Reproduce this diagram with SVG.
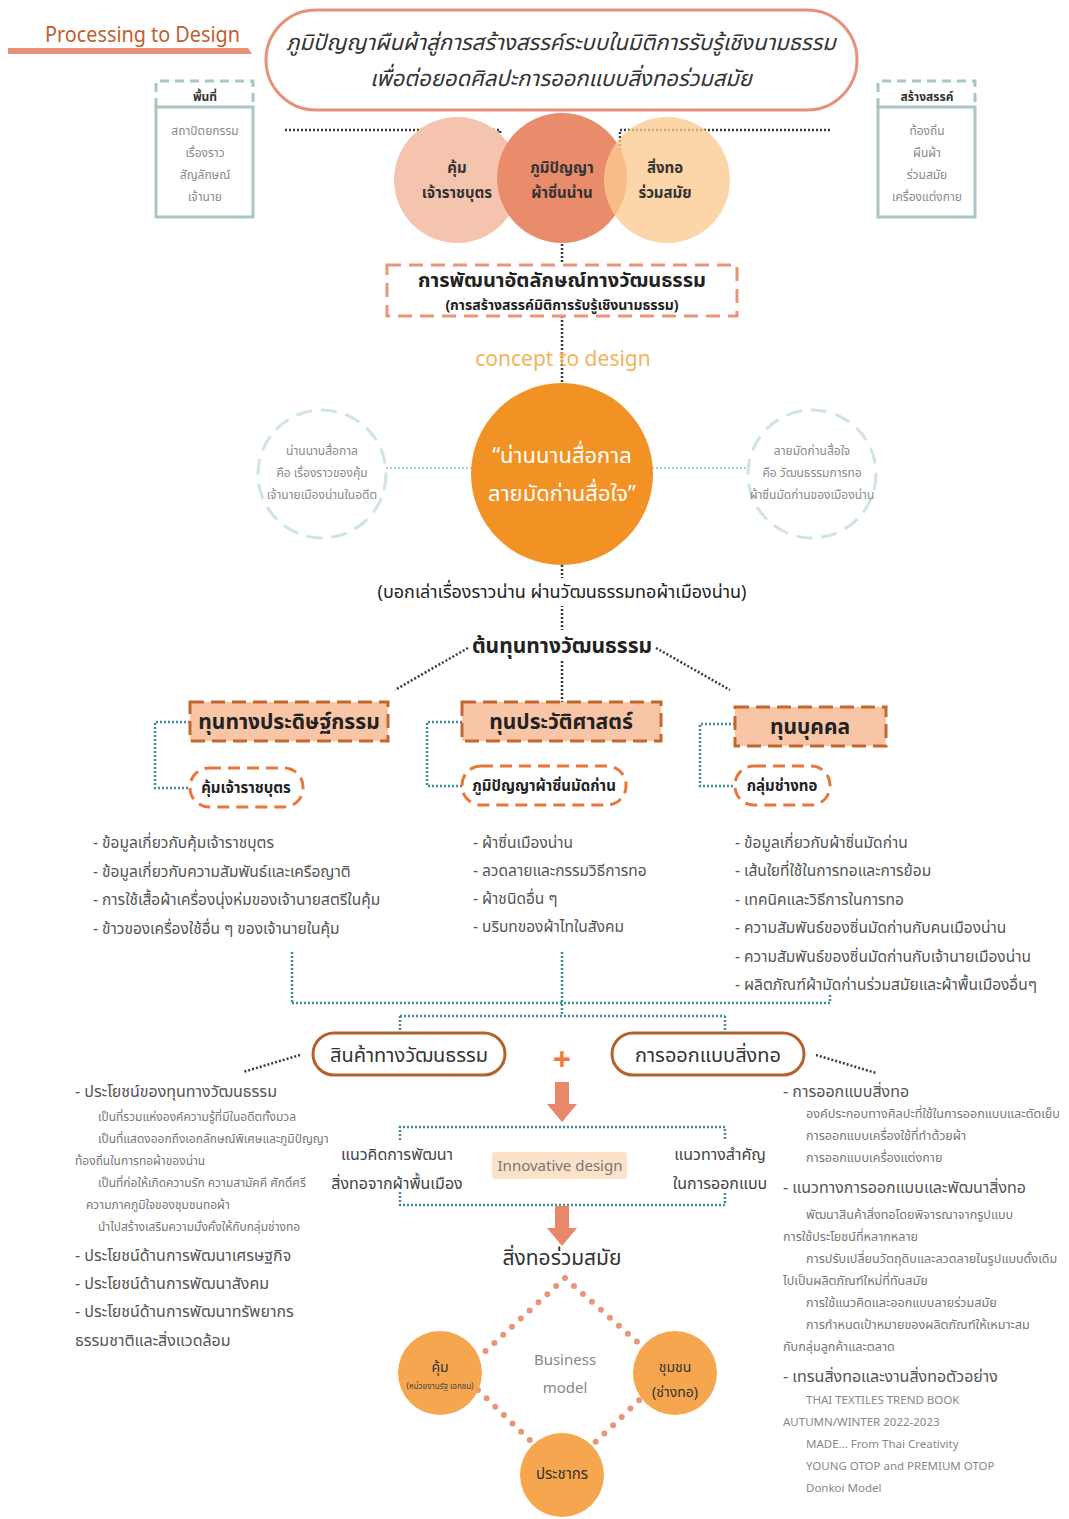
<svg xmlns="http://www.w3.org/2000/svg" width="1069" height="1519" viewBox="0 0 1069 1519">
<defs>
<style>
text{font-family:"Noto Sans Thai","Noto Sans","Liberation Sans",sans-serif;}
.dk{stroke:#3a3a3a;stroke-width:2.5;stroke-dasharray:2 2;fill:none;}
.tl{stroke:#3e8d98;stroke-width:2.5;stroke-dasharray:2 2;fill:none;}
.ltl{stroke:#a9d4d4;stroke-width:2;stroke-dasharray:2 2;fill:none;}
.sal{stroke:#e8967a;stroke-width:6;stroke-dasharray:0 12;stroke-linecap:round;fill:none;}
.side{fill:#8a8a8a;font-size:12px;text-anchor:middle;}
.hdr{fill:#f8c6a6;stroke:#c4672f;stroke-width:3;stroke-dasharray:14 7;}
.hdrt{fill:#222;font-size:21px;font-weight:bold;text-anchor:middle;}
.pill{fill:none;stroke:#e8773a;stroke-width:3;stroke-dasharray:12 7;}
.pillt{fill:#222;font-size:15px;font-weight:bold;text-anchor:middle;}
.li{fill:#555;font-size:15.5px;}
.sm{fill:#777;font-size:12px;}
.smr{fill:#777;font-size:12.6px;}
.big{fill:#555;font-size:16px;}
.en{fill:#888;font-size:11.5px;}
.bm{fill:#f6a64f;}
</style>
</defs>
<rect width="1069" height="1519" fill="#ffffff"/>

<g id="connectors">
  <path class="dk" d="M285,130 H500 V198"/>
  <path class="dk" d="M830,130 H620 V198"/>
  <path class="dk" d="M562,200 V264"/>
  <path class="dk" d="M562,316 V390"/>
  <path class="ltl" d="M386,468 H472"/>
  <path class="ltl" d="M652,468 H748"/>
  <path class="dk" d="M562,565 V702"/>
  <path class="dk" d="M468,648 L395,690"/>
  <path class="dk" d="M656,648 L730,690"/>
  <path class="tl" d="M190,722 H155 V788 H190"/>
  <path class="tl" d="M462,722 H427 V786 H462"/>
  <path class="tl" d="M735,724 H700 V786 H735"/>
  <path class="tl" d="M292,952 V1003 M562,952 V1016 M830,995 V1003 M292,1003 H830 M400,1016 H725 M400,1016 V1030 M725,1016 V1030"/>
  <path class="dk" d="M300,1055 L243,1072"/>
  <path class="dk" d="M816,1055 L876,1073"/>
  <path class="tl" d="M400,1140 V1127 H725 V1140 M400,1192 V1205 H725 V1192"/>
  <path fill="#e8876a" d="M555,1082 H569 V1104 H577 L562,1122 L547,1104 H555 Z"/>
  <path fill="#e8876a" d="M555,1206 H569 V1228 H577 L562,1246 L547,1228 H555 Z"/>
  <path class="sal" d="M565,1278 L478,1358 M565,1278 L652,1355 M478,1390 L540,1450 M587,1450 L650,1390"/>
</g>

<g id="header">
  <text x="45" y="42" font-size="21" fill="#bf5f2e" textLength="195" lengthAdjust="spacingAndGlyphs">Processing to Design</text>
  <path d="M8,48 H248 L252,54 H8 Z" fill="#e8907a"/>
</g>

<g id="title">
  <rect x="266" y="10" width="591" height="100" rx="50" fill="#fff" stroke="#e8917a" stroke-width="3"/>
  <text x="561" y="50" font-size="22" font-style="italic" fill="#333" text-anchor="middle">ภูมิปัญญาผืนผ้าสู่การสร้างสรรค์ระบบในมิติการรับรู้เชิงนามธรรม</text>
  <text x="561" y="86" font-size="22" font-style="italic" fill="#333" text-anchor="middle">เพื่อต่อยอดศิลปะการออกแบบสิ่งทอร่วมสมัย</text>
</g>

<g id="area-box">
  <path d="M156,107 V81 H253 V107" fill="none" stroke="#a9c5c5" stroke-width="3" stroke-dasharray="9 6"/>
  <text x="205" y="101" font-size="12" font-weight="bold" fill="#333" text-anchor="middle">พื้นที่</text>
  <rect x="156" y="107" width="97" height="110" fill="#fff" stroke="#a9c5c5" stroke-width="3"/>
  <text class="side" x="205" y="135">สถาปัตยกรรม</text>
  <text class="side" x="205" y="157">เรื่องราว</text>
  <text class="side" x="205" y="179">สัญลักษณ์</text>
  <text class="side" x="205" y="201">เจ้านาย</text>
</g>

<g id="create-box">
  <path d="M878,107 V81 H975 V107" fill="none" stroke="#a9c5c5" stroke-width="3" stroke-dasharray="9 6"/>
  <text x="927" y="101" font-size="12" font-weight="bold" fill="#333" text-anchor="middle">สร้างสรรค์</text>
  <rect x="878" y="107" width="97" height="110" fill="#fff" stroke="#a9c5c5" stroke-width="3"/>
  <text class="side" x="927" y="135">ท้องถิ่น</text>
  <text class="side" x="927" y="157">ผืนผ้า</text>
  <text class="side" x="927" y="179">ร่วมสมัย</text>
  <text class="side" x="927" y="201">เครื่องแต่งกาย</text>
</g>

<g id="venn">
  <circle cx="457" cy="180" r="63" fill="#f5c4ae"/>
  <circle cx="562" cy="178" r="65" fill="#e98c6c"/>
  <circle cx="667" cy="180" r="63" fill="#fbc98f" opacity="0.78"/>
  <text x="457" y="173" font-size="15" font-weight="bold" fill="#333" text-anchor="middle">คุ้ม</text>
  <text x="457" y="198" font-size="15" font-weight="bold" fill="#333" text-anchor="middle">เจ้าราชบุตร</text>
  <text x="562" y="173" font-size="15" font-weight="bold" fill="#333" text-anchor="middle">ภูมิปัญญา</text>
  <text x="562" y="198" font-size="15" font-weight="bold" fill="#333" text-anchor="middle">ผ้าซิ่นน่าน</text>
  <text x="665" y="173" font-size="15" font-weight="bold" fill="#333" text-anchor="middle">สิ่งทอ</text>
  <text x="665" y="198" font-size="15" font-weight="bold" fill="#333" text-anchor="middle">ร่วมสมัย</text>
</g>

<g id="identity-box">
  <rect x="387" y="265" width="350" height="51" fill="#fff" stroke="#e8967a" stroke-width="3" stroke-dasharray="14 8"/>
  <text x="562" y="287" font-size="20" font-weight="bold" fill="#222" text-anchor="middle">การพัฒนาอัตลักษณ์ทางวัฒนธรรม</text>
  <text x="562" y="310" font-size="14" font-weight="bold" fill="#222" text-anchor="middle">(การสร้างสรรค์มิติการรับรู้เชิงนามธรรม)</text>
</g>

<g id="concept">
  <text x="563" y="366" font-size="21" fill="#f4b35c" text-anchor="middle">concept to design</text>
</g>

<g id="left-note">
  <circle cx="322" cy="474" r="64" fill="#fff" stroke="#cfe4e4" stroke-width="3" stroke-dasharray="16 9"/>
  <text class="side" x="322" y="455">น่านนานสื่อกาล</text>
  <text class="side" x="322" y="477">คือ เรื่องราวของคุ้ม</text>
  <text class="side" x="322" y="499">เจ้านายเมืองน่านในอดีต</text>
</g>

<g id="right-note">
  <circle cx="812" cy="474" r="64" fill="#fff" stroke="#cfe4e4" stroke-width="3" stroke-dasharray="16 9"/>
  <text class="side" x="812" y="455">ลายมัดก่านสื่อใจ</text>
  <text class="side" x="812" y="477">คือ วัฒนธรรมการทอ</text>
  <text class="side" x="812" y="499">ผ้าซิ่นมัดก่านของเมืองน่าน</text>
</g>

<g id="main-circle">
  <circle cx="562" cy="474" r="91" fill="#f39224"/>
  <text x="562" y="463" font-size="22" fill="#fff" text-anchor="middle">“น่านนานสื่อกาล</text>
  <text x="562" y="501" font-size="22" fill="#fff" text-anchor="middle">ลายมัดก่านสื่อใจ”</text>
</g>

<g id="story">
  <rect x="370" y="578" width="384" height="28" fill="#fff"/>
  <text x="562" y="598" font-size="18" fill="#222" text-anchor="middle">(บอกเล่าเรื่องราวน่าน ผ่านวัฒนธรรมทอผ้าเมืองน่าน)</text>
</g>

<g id="cultural-capital">
  <rect x="474" y="630" width="178" height="30" fill="#fff"/>
  <text x="562" y="653" font-size="21" font-weight="bold" fill="#222" text-anchor="middle">ต้นทุนทางวัฒนธรรม</text>
</g>

<g id="cap-invention">
  <rect class="hdr" x="190" y="702" width="198" height="39"/>
  <text class="hdrt" x="289" y="729">ทุนทางประดิษฐ์กรรม</text>
</g>
<g id="cap-history">
  <rect class="hdr" x="462" y="702" width="199" height="39"/>
  <text class="hdrt" x="561" y="729">ทุนประวัติศาสตร์</text>
</g>
<g id="cap-people">
  <rect class="hdr" x="735" y="707" width="151" height="39"/>
  <text class="hdrt" x="810" y="734">ทุนบุคคล</text>
</g>

<g id="pill-palace">
  <rect class="pill" x="190" y="768" width="113" height="39" rx="19"/>
  <text class="pillt" x="246" y="793">คุ้มเจ้าราชบุตร</text>
</g>
<g id="pill-wisdom">
  <rect class="pill" x="462" y="766" width="164" height="39" rx="19"/>
  <text class="pillt" x="544" y="791">ภูมิปัญญาผ้าซิ่นมัดก่าน</text>
</g>
<g id="pill-weavers">
  <rect class="pill" x="735" y="766" width="95" height="39" rx="19"/>
  <text class="pillt" x="782" y="791">กลุ่มช่างทอ</text>
</g>

<g id="list-left">
  <text class="li" x="93" y="848">- ข้อมูลเกี่ยวกับคุ้มเจ้าราชบุตร</text>
  <text class="li" x="93" y="877">- ข้อมูลเกี่ยวกับความสัมพันธ์และเครือญาติ</text>
  <text class="li" x="93" y="905">- การใช้เสื้อผ้าเครื่องนุ่งห่มของเจ้านายสตรีในคุ้ม</text>
  <text class="li" x="93" y="934">- ข้าวของเครื่องใช้อื่น ๆ ของเจ้านายในคุ้ม</text>
</g>
<g id="list-middle">
  <text class="li" x="473" y="848">- ผ้าซิ่นเมืองน่าน</text>
  <text class="li" x="473" y="876">- ลวดลายและกรรมวิธีการทอ</text>
  <text class="li" x="473" y="904">- ผ้าชนิดอื่น ๆ</text>
  <text class="li" x="473" y="932">- บริบทของผ้าไทในสังคม</text>
</g>
<g id="list-right">
  <text class="li" x="735" y="848">- ข้อมูลเกี่ยวกับผ้าซิ่นมัดก่าน</text>
  <text class="li" x="735" y="876">- เส้นใยที่ใช้ในการทอและการย้อม</text>
  <text class="li" x="735" y="905">- เทคนิคและวิธีการในการทอ</text>
  <text class="li" x="735" y="933">- ความสัมพันธ์ของซิ่นมัดก่านกับคนเมืองน่าน</text>
  <text class="li" x="735" y="962">- ความสัมพันธ์ของซิ่นมัดก่านกับเจ้านายเมืองน่าน</text>
  <text class="li" x="735" y="990">- ผลิตภัณฑ์ผ้ามัดก่านร่วมสมัยและผ้าพื้นเมืองอื่นๆ</text>
</g>

<g id="cultural-product">
  <rect x="313" y="1033" width="192" height="42" rx="21" fill="#fff" stroke="#b4622c" stroke-width="3"/>
  <text x="409" y="1062" font-size="20" fill="#333" text-anchor="middle">สินค้าทางวัฒนธรรม</text>
</g>
<g id="plus">
  <text x="562" y="1071" font-size="32" font-weight="bold" fill="#f07a3c" text-anchor="middle">+</text>
</g>
<g id="textile-design">
  <rect x="612" y="1033" width="192" height="42" rx="21" fill="#fff" stroke="#b4622c" stroke-width="3"/>
  <text x="708" y="1062" font-size="20" fill="#333" text-anchor="middle">การออกแบบสิ่งทอ</text>
</g>

<g id="benefits">
  <text class="big" x="75" y="1097">- ประโยชน์ของทุนทางวัฒนธรรม</text>
  <text class="sm" x="98" y="1121">เป็นที่รวมแห่งองค์ความรู้ที่มีในอดีตทั้งมวล</text>
  <text class="sm" x="98" y="1143">เป็นที่แสดงออกถึงเอกลักษณ์พิเศษและภูมิปัญญา</text>
  <text class="sm" x="75" y="1165">ท้องถิ่นในการทอผ้าของน่าน</text>
  <text class="sm" x="98" y="1187">เป็นที่ก่อให้เกิดความรัก ความสามัคคี ศักดิ์ศรี</text>
  <text class="sm" x="86" y="1209">ความภาคภูมิใจของชุมชนทอผ้า</text>
  <text class="sm" x="98" y="1231">นำไปสร้างเสริมความมั่งคั่งให้กับกลุ่มช่างทอ</text>
  <text class="big" x="75" y="1261">- ประโยชน์ด้านการพัฒนาเศรษฐกิจ</text>
  <text class="big" x="75" y="1289">- ประโยชน์ด้านการพัฒนาสังคม</text>
  <text class="big" x="75" y="1317">- ประโยชน์ด้านการพัฒนาทรัพยากร</text>
  <text class="big" x="75" y="1346">ธรรมชาติและสิ่งแวดล้อม</text>
</g>

<g id="design-notes">
  <text class="big" x="783" y="1097">- การออกแบบสิ่งทอ</text>
  <text class="smr" x="806" y="1118">องค์ประกอบทางศิลปะที่ใช้ในการออกแบบและตัดเย็บ</text>
  <text class="smr" x="806" y="1140">การออกแบบเครื่องใช้ที่ทำด้วยผ้า</text>
  <text class="smr" x="806" y="1162">การออกแบบเครื่องแต่งกาย</text>
  <text class="big" x="783" y="1193">- แนวทางการออกแบบและพัฒนาสิ่งทอ</text>
  <text class="smr" x="806" y="1219">พัฒนาสินค้าสิ่งทอโดยพิจารณาจากรูปแบบ</text>
  <text class="smr" x="783" y="1241">การใช้ประโยชน์ที่หลากหลาย</text>
  <text class="smr" x="806" y="1263">การปรับเปลี่ยนวัตถุดิบและลวดลายในรูปแบบดั้งเดิม</text>
  <text class="smr" x="783" y="1285">ไปเป็นผลิตภัณฑ์ใหม่ที่ทันสมัย</text>
  <text class="smr" x="806" y="1307">การใช้แนวคิดและออกแบบลายร่วมสมัย</text>
  <text class="smr" x="806" y="1329">การกำหนดเป้าหมายของผลิตภัณฑ์ให้เหมาะสม</text>
  <text class="smr" x="783" y="1351">กับกลุ่มลูกค้าและตลาด</text>
  <text class="big" x="783" y="1382">- เทรนสิ่งทอและงานสิ่งทอตัวอย่าง</text>
  <text class="en" x="806" y="1404">THAI TEXTILES TREND BOOK</text>
  <text class="en" x="783" y="1426">AUTUMN/WINTER 2022-2023</text>
  <text class="en" x="806" y="1448">MADE... From Thai Creativity</text>
  <text class="en" x="806" y="1470">YOUNG OTOP and PREMIUM OTOP</text>
  <text class="en" x="806" y="1492">Donkoi Model</text>
</g>

<g id="innovative-design">
  <text x="397" y="1160" font-size="16" fill="#444" text-anchor="middle">แนวคิดการพัฒนา</text>
  <text x="397" y="1189" font-size="16" fill="#444" text-anchor="middle">สิ่งทอจากผ้าพื้นเมือง</text>
  <rect x="492" y="1152" width="135" height="27" rx="3" fill="#fde1c9"/>
  <text x="560" y="1171" font-size="15" fill="#777" text-anchor="middle">Innovative design</text>
  <text x="720" y="1160" font-size="16" fill="#444" text-anchor="middle">แนวทางสำคัญ</text>
  <text x="720" y="1189" font-size="16" fill="#444" text-anchor="middle">ในการออกแบบ</text>
</g>

<g id="contemporary">
  <text x="562" y="1265" font-size="21" fill="#333" text-anchor="middle">สิ่งทอร่วมสมัย</text>
</g>

<g id="business-model">
  <text x="565" y="1365" font-size="15" fill="#888" text-anchor="middle">Business</text>
  <text x="565" y="1393" font-size="15" fill="#888" text-anchor="middle">model</text>
</g>
<g id="bm-palace">
  <circle class="bm" cx="440" cy="1373" r="42"/>
  <text x="440" y="1372" font-size="14" fill="#333" text-anchor="middle">คุ้ม</text>
  <text x="440" y="1389" font-size="8" fill="#444" text-anchor="middle">(หน่วยงานรัฐ เอกชน)</text>
</g>
<g id="bm-community">
  <circle class="bm" cx="675" cy="1373" r="42"/>
  <text x="675" y="1372" font-size="14" fill="#333" text-anchor="middle">ชุมชน</text>
  <text x="675" y="1397" font-size="14" fill="#333" text-anchor="middle">(ช่างทอ)</text>
</g>
<g id="bm-population">
  <circle class="bm" cx="562" cy="1475" r="42"/>
  <text x="562" y="1479" font-size="15" fill="#333" text-anchor="middle">ประชากร</text>
</g>
</svg>
